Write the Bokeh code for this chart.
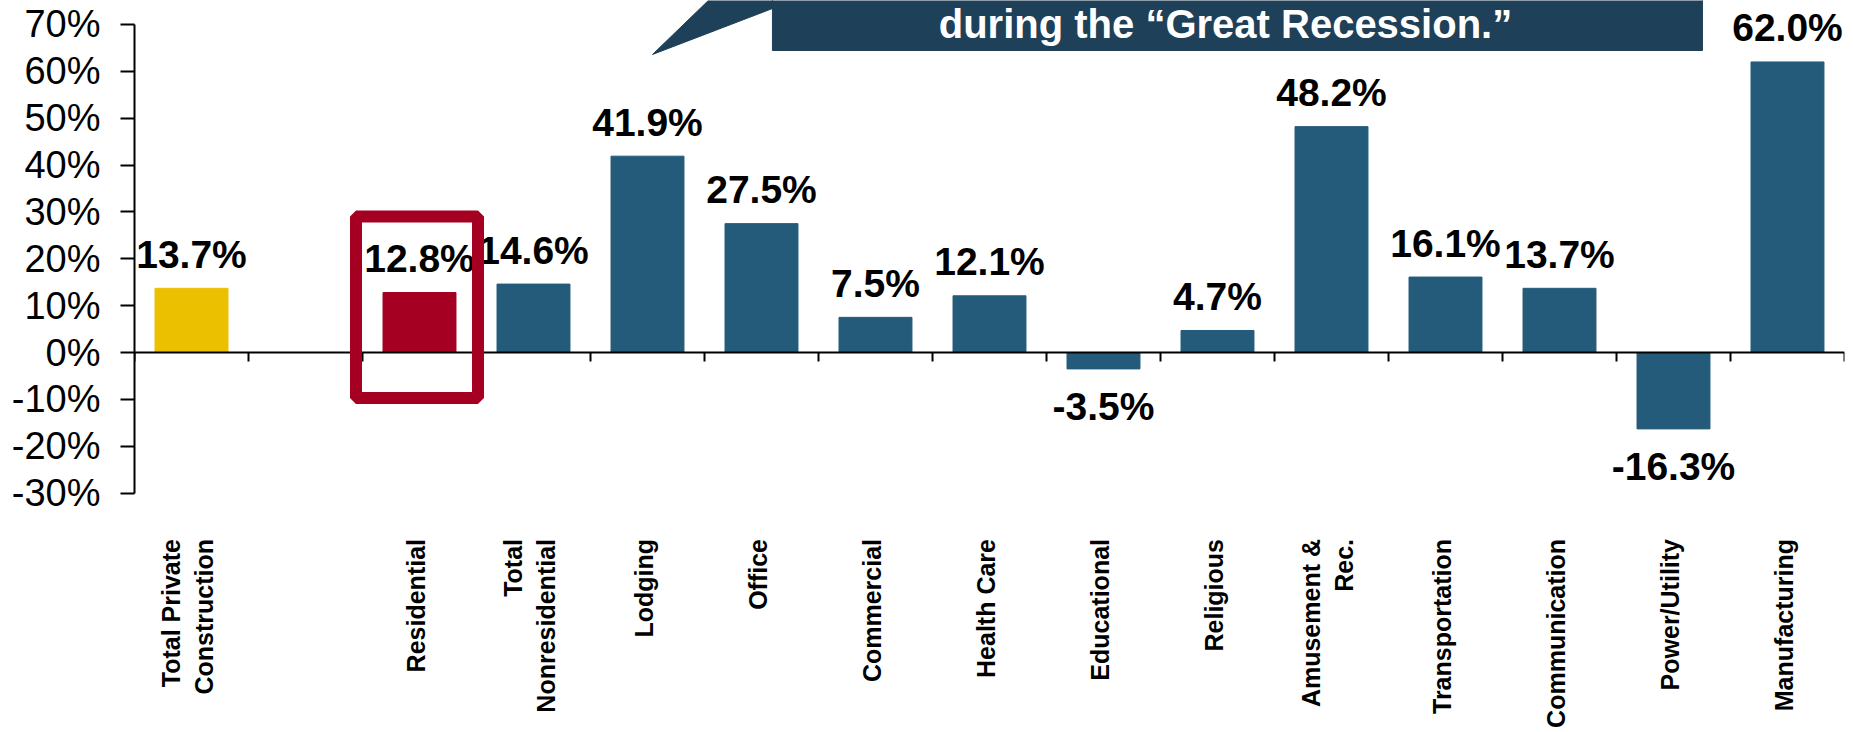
from bokeh.plotting import figure
from bokeh.models import FixedTicker, PrintfTickFormatter, BoxAnnotation, ColumnDataSource, Range1d
from bokeh.core.properties import value
from bokeh.embed import file_html
from bokeh.resources import INLINE
import math

# ---------------- data ----------------
categories = ["Total Private\nConstruction", "", "Residential", "Total\nNonresidential",
              "Lodging", "Office", "Commercial", "Health Care", "Educational", "Religious",
              "Amusement &\nRec.", "Transportation", "Communication", "Power/Utility",
              "Manufacturing"]
growth = [13.7, None, 12.8, 14.6, 41.9, 27.5, 7.5, 12.1, -3.5, 4.7, 48.2, 16.1, 13.7, -16.3, 62.0]
group = ["total", None, "residential", "nonres", "nonres", "nonres", "nonres", "nonres",
         "nonres", "nonres", "nonres", "nonres", "nonres", "nonres", "nonres"]
y_ticks = [-30, -20, -10, 0, 10, 20, 30, 40, 50, 60, 70]
callout_text = "during the \u201cGreat Recession.\u201d"

# ---------------- styling ----------------
COLORS = {"total": "#EBC000", "residential": "#A50021", "nonres": "#245B7B"}
BANNER = "#1E4058"
FONT = "Liberation Sans"

W, H = 1853, 732
LEFT, RIGHT = 134, 9
ZERO_PX = 352               # screen y of the 0% line
PX = 4.686                  # pixels per percentage point
Y1 = ZERO_PX / PX
Y0 = -(H - ZERO_PX) / PX
n = len(categories)

p = figure(width=W, height=H, output_backend="svg", toolbar_location=None,
           x_range=Range1d(-0.5, n - 0.5), y_range=Range1d(Y0, Y1),
           x_axis_type=None, min_border_left=LEFT, min_border_right=RIGHT,
           min_border_top=0, min_border_bottom=0)
p.outline_line_color = None
p.grid.visible = False
p.background_fill_color = "white"

# y axis
ax = p.yaxis[0]
ax.bounds = (-30, 70)
ax.ticker = FixedTicker(ticks=y_ticks)
ax.formatter = PrintfTickFormatter(format="%d%%")
ax.axis_line_width = 2
ax.axis_line_color = "black"
ax.major_tick_line_width = 2
ax.major_tick_line_color = "black"
ax.major_tick_out = 14
ax.major_tick_in = 0
ax.minor_tick_out = 0
ax.minor_tick_in = 0
ax.major_label_text_font = FONT
ax.major_label_text_font_size = "38px"
ax.major_label_text_color = "black"
ax.major_label_standoff = 20

# bars
idx = [i for i, v in enumerate(growth) if v is not None]
vals = [growth[i] for i in idx]
src = ColumnDataSource(dict(
    x=idx, top=vals, color=[COLORS[group[i]] for i in idx],
    label=[f"{v:.1f}%" for v in vals],
    ly=[v + 34 / PX if v >= 0 else v - 38 / PX for v in vals],
))
p.vbar(x="x", top="top", bottom=0, width=0.64, color="color", source=src)

# zero line + category-boundary ticks
p.segment(x0=[-0.5], x1=[n - 0.5], y0=[0], y1=[0], line_color="black", line_width=2)
bx = [i - 0.5 for i in range(n + 1)]
p.segment(x0=bx, x1=bx, y0=[0] * len(bx), y1=[-9 / PX] * len(bx),
          line_color="black", line_width=2)

# value labels
p.text(x="x", y="ly", text="label", source=src, text_align="center",
       text_baseline="alphabetic", text_font=value(FONT), text_font_style="bold",
       text_font_size="39px", text_color="black")

# category labels (rotated)
lab_idx = [i for i, c in enumerate(categories) if c]
p.text(x=lab_idx, y=[-39.8] * len(lab_idx), text=[categories[i] for i in lab_idx],
       angle=math.pi / 2, text_align="right", text_baseline="middle", x_offset=-4,
       text_font=value(FONT), text_font_style="bold", text_font_size="25px",
       text_line_height=1.2, text_color="black")

# highlight box around Residential
p.add_layout(BoxAnnotation(left=1.443, right=2.513, top=29.0, bottom=-9.7,
                           fill_alpha=0, line_alpha=1, line_color="#A50021",
                           line_width=12))

# callout banner
p.quad(left=[5.096], right=[13.254], bottom=[64.45], top=[77], color=BANNER)
p.patch(x=[4.044, 4.614, 5.096, 5.096], y=[63.6, 77, 77, 73.4], color=BANNER)
p.text(x=[9.07], y=[70.0], text=[callout_text], text_align="center",
       text_baseline="alphabetic", text_font=value(FONT), text_font_style="bold",
       text_font_size="40px", text_color="white")

open("out.html", "w").write(file_html(p, INLINE))
